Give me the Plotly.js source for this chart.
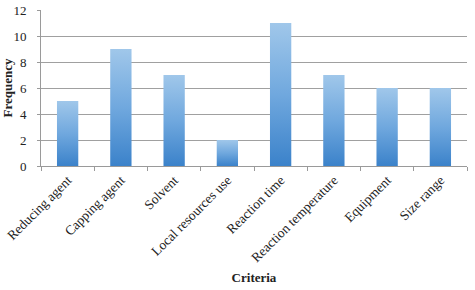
<!DOCTYPE html>
<html>
<head>
<meta charset="utf-8">
<script src="https://cdn.plot.ly/plotly-3.0.1.min.js"></script>
<style>html,body{margin:0;padding:0;background:#fff;}#chart{width:475px;height:290px;}</style>
</head>
<body>
<div id="chart"></div>
<script>
const categories = ["Reducing agent","Capping agent","Solvent","Local resources use","Reaction time","Reaction temperature","Equipment","Size range"];
const frequency = [5, 9, 7, 2, 11, 7, 6, 6];
const yTicks = [0, 2, 4, 6, 8, 10, 12];

const fontFam = "Liberation Serif, DejaVu Serif, serif";
const trace = {
  type: "bar",
  x: categories,
  y: frequency,
  width: 0.4,
  marker: {color: "#5f9fdc", line: {width: 0}},
  hoverinfo: "skip"
};
const layout = {
  width: 475, height: 290,
  margin: {l: 41, r: 8, t: 10, b: 124},
  paper_bgcolor: "#fff", plot_bgcolor: "#fff",
  showlegend: false,
  font: {family: fontFam, size: 13, color: "#222"},
  xaxis: {
    type: "category",
    tickson: "boundaries",
    ticks: "outside", ticklen: 4, tickcolor: "#9a9a9a",
    showline: true, linecolor: "#9a9a9a", linewidth: 1,
    showgrid: false,
    tickangle: -45,
    tickfont: {family: fontFam, size: 13.5, color: "#222"},
    title: {text: "<b>Criteria</b>", font: {family: fontFam, size: 13, color: "#222"}, standoff: 8}
  },
  yaxis: {
    range: [0, 12],
    tickvals: yTicks,
    ticks: "outside", ticklen: 3, tickcolor: "#9a9a9a",
    ticklabelstandoff: 8,
    showline: true, linecolor: "#9a9a9a", linewidth: 1,
    showgrid: true, gridcolor: "#a0a0a0", gridwidth: 1,
    zeroline: false,
    tickfont: {family: fontFam, size: 13, color: "#222"},
    title: {text: "<b>Frequency</b>", font: {family: fontFam, size: 13, color: "#222"}, standoff: 0}
  }
};
Plotly.newPlot("chart", [trace], layout, {displayModeBar: false, staticPlot: true}).then(function(gd){
  const svg = gd.querySelector("svg.main-svg");
  const ns = "http://www.w3.org/2000/svg";
  let defs = svg.querySelector("defs");
  if (!defs) { defs = document.createElementNS(ns, "defs"); svg.insertBefore(defs, svg.firstChild); }
  const g = document.createElementNS(ns, "linearGradient");
  g.setAttribute("id", "barGrad");
  g.setAttribute("x1", "0"); g.setAttribute("y1", "0");
  g.setAttribute("x2", "0"); g.setAttribute("y2", "1");
  [["0", "#a0c7ea"], ["0.5", "#70a8de"], ["1", "#3b82ca"]].forEach(function(s){
    const st = document.createElementNS(ns, "stop");
    st.setAttribute("offset", s[0]);
    st.setAttribute("stop-color", s[1]);
    g.appendChild(st);
  });
  defs.appendChild(g);
  gd.querySelectorAll(".barlayer .point path").forEach(function(p){
    p.style.fill = "url(#barGrad)";
  });
});
</script>
</body>
</html>
